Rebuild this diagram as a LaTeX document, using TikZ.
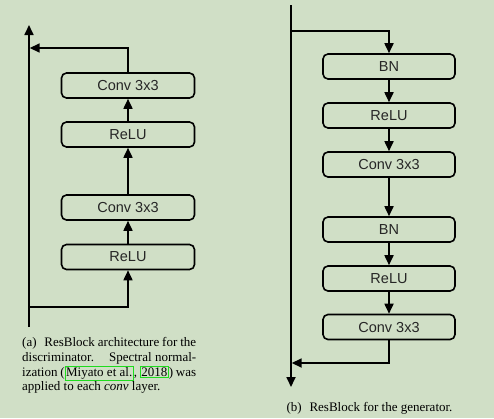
\documentclass[tikz,border=0pt]{standalone}
\usepackage{fontspec}
\setmainfont{Liberation Serif}
\newfontfamily\boxfont{Liberation Sans}
\usetikzlibrary{arrows.meta}
\definecolor{bgc}{RGB}{208,223,198}
\definecolor{linkg}{RGB}{30,220,30}
\newcommand{\linkbox}[1]{{\setlength\fboxsep{0.6pt}\setlength\fboxrule{0.9pt}\fcolorbox{linkg}{bgc}{#1}}}
\begin{document}
\begin{tikzpicture}[x=1pt,y=-1pt,
  blk/.style={draw, line width=1.6pt, rounded corners=5pt, minimum width=133pt, minimum height=25pt, inner sep=0pt, text=black!85, font=\boxfont\fontsize{14.5}{16}\selectfont},
  conn/.style={line width=1.7pt, -{Triangle[length=10pt,width=9pt]}},
  plain/.style={line width=1.7pt}]
\fill[bgc] (0,0) rectangle (494,418);
\useasboundingbox (0,0) rectangle (494,418);
% left panel
\node[blk] (lrelu1) at (128,257) {ReLU};
\node[blk] (lconv1) at (128,207.5) {Conv 3x3};
\node[blk] (lrelu2) at (128,134.5) {ReLU};
\node[blk] (lconv2) at (128,85.5) {Conv 3x3};
\coordinate (lbot) at (29,327);
\coordinate (ltop) at (29,25);
\coordinate (ljunc) at (29,307);
\coordinate (lmerge) at (29.7,48);
\draw[conn] (lbot) -- (ltop);
\draw[conn] (ljunc) -| (lrelu1.south);
\draw[conn] (lrelu1) -- (lconv1);
\draw[conn] (lconv1) -- (lrelu2);
\draw[conn] (lrelu2) -- (lconv2);
\draw[conn] (lconv2.north) |- (lmerge);
% right panel
\node[blk, minimum width=132pt] (bn1) at (389,66.5) {BN};
\node[blk, minimum width=132pt] (rrelu1) at (389,115.5) {ReLU};
\node[blk, minimum width=132pt] (rconv1) at (389,164.5) {Conv 3x3};
\node[blk, minimum width=132pt] (bn2) at (389,229.5) {BN};
\node[blk, minimum width=132pt] (rrelu2) at (389,278.5) {ReLU};
\node[blk, minimum width=132pt] (rconv2) at (389,327) {Conv 3x3};
\coordinate (rtop) at (291,5);
\coordinate (rbot) at (291,387);
\coordinate (rjunc) at (291,31);
\coordinate (rmerge) at (291.7,363);
\draw[conn] (rtop) -- (rbot);
\draw[conn] (rjunc) -| (bn1.north);
\draw[conn] (bn1) -- (rrelu1);
\draw[conn] (rrelu1) -- (rconv1);
\draw[conn] (rconv1) -- (bn2);
\draw[conn] (bn2) -- (rrelu2);
\draw[conn] (rrelu2) -- (rconv2);
\draw[conn] (rconv2.south) |- (rmerge);
% captions
\node[anchor=north west, inner sep=0pt, text width=174pt, align=justify, font=\fontsize{13}{14.7}\selectfont] (capa) at (22,337.5)
 {(a)\hspace{0.6em}ResBlock architecture for the\linebreak discriminator.\hspace{0.8em} Spectral normal-\linebreak ization (\linkbox{Miyato et al.}, \linkbox{2018}) was\linebreak applied to each \emph{conv} layer.};
\node[inner sep=0pt, font=\fontsize{13}{14.7}\selectfont] (capb) at (369.5,408) {(b)\hspace{0.6em}ResBlock for the generator.};
\end{tikzpicture}
\end{document}
